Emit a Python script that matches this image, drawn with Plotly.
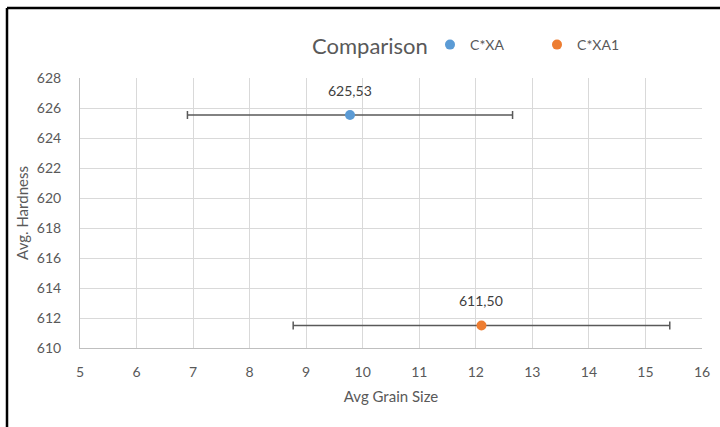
import plotly.graph_objects as go

# Series: average grain size (x), its spread (±), and average hardness (y)
series_names = ["C*XA", "C*XA1"]
grain_size = [9.775, 12.10]
grain_err = [2.875, 3.33]
hardness = [625.53, 611.50]
colors = ["#5B9BD5", "#ED7D31"]

x_ticks = list(range(5, 17))
y_ticks = list(range(610, 629, 2))

FONT = "Lato, sans-serif"
GRAY = "#595959"

fig = go.Figure()
for name, x, e, y, c in zip(series_names, grain_size, grain_err, hardness, colors):
    fig.add_trace(go.Scatter(
        x=[x], y=[y], name=name, mode="markers",
        marker=dict(color=c, size=10, line=dict(width=0)),
        error_x=dict(type="data", array=[e], symmetric=True,
                     color="#595959", thickness=1.5, width=4),
    ))
    fig.add_annotation(
        x=x, y=y, text=f"{y:.2f}".replace(".", ","), showarrow=False,
        yshift=25, font=dict(family=FONT, size=14, color="#404040"),
    )

# Chart title (sits on the same line as the legend)
fig.add_annotation(
    xref="paper", yref="paper", x=(370 - 80) / 622, y=1 + (78 - 45) / 270,
    text="Comparison", showarrow=False, xanchor="center", yanchor="middle",
    font=dict(family=FONT, size=22, color=GRAY),
)

# Outer frame line on the top and left edges
fig.add_shape(type="line", xref="paper", yref="paper",
              x0=(7 - 80) / 622, x1=(720 - 80) / 622,
              y0=1 + (78 - 8) / 270, y1=1 + (78 - 8) / 270,
              line=dict(color="black", width=2.5))
fig.add_shape(type="line", xref="paper", yref="paper",
              x0=(7 - 80) / 622, x1=(7 - 80) / 622,
              y0=1 + (78 - 8) / 270, y1=-(79) / 270,
              line=dict(color="black", width=2.5))

fig.update_layout(
    width=720, height=427,
    margin=dict(l=80, r=18, t=78, b=79),
    paper_bgcolor="white", plot_bgcolor="white",
    font=dict(family=FONT, size=14, color=GRAY),
    showlegend=True,
    legend=dict(orientation="h", x=(430 - 80) / 622, y=1 + (78 - 45) / 270,
                xanchor="left", yanchor="middle",
                font=dict(family=FONT, size=14, color=GRAY),
                itemwidth=30, entrywidth=62, bgcolor="rgba(0,0,0,0)"),
    xaxis=dict(
        range=[5, 16], tickvals=x_ticks, ticktext=[str(v) for v in x_ticks],
        showgrid=True, gridcolor="#D9D9D9", gridwidth=1,
        showline=True, linecolor="#BFBFBF", linewidth=1,
        zeroline=False, ticks="", ticklabelstandoff=11, automargin=False,
        tickfont=dict(family=FONT, size=14, color=GRAY),
        title=dict(text="Avg Grain Size", standoff=12,
                   font=dict(family=FONT, size=15, color=GRAY)),
    ),
    yaxis=dict(
        range=[610, 628], tickvals=y_ticks, ticktext=[str(v) for v in y_ticks],
        showgrid=True, gridcolor="#D9D9D9", gridwidth=1,
        showline=True, linecolor="#BFBFBF", linewidth=1,
        zeroline=False, ticks="", ticklabelstandoff=15, automargin=False,
        tickfont=dict(family=FONT, size=14, color=GRAY),
        title=dict(text="Avg. Hardness", standoff=4,
                   font=dict(family=FONT, size=15, color=GRAY)),
    ),
)

fig.write_html("out.html")
